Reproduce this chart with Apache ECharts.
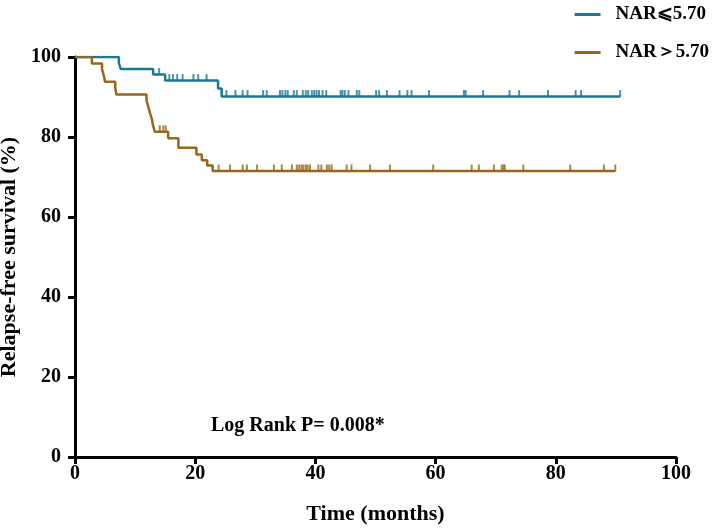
<!DOCTYPE html>
<html>
<head>
<meta charset="utf-8">
<script src="https://cdn.jsdelivr.net/npm/echarts@6/dist/echarts.min.js"></script>
<style>
html, body { margin: 0; padding: 0; background: #fff; }
#chart { width: 714px; height: 528px; }
</style>
</head>
<body>
<div id="chart"></div>
<script>
var lowName = 'NAR⩽5.70';
var highName = 'NAR＞5.70';

// Kaplan-Meier steps: event time (months) and survival (%) right after it
var lowTimes = [7.3, 7.6, 13.0, 15.0, 23.8, 24.4];
var lowSurv = [98.5, 97.0, 95.6, 94.1, 92.1, 90.1];
var lowLast = 90.7;
var lowCensor = [14.0, 15.7, 16.3, 17.0, 17.9, 19.7, 20.5, 21.9, 25.2, 26.7, 27.9, 28.7,
    31.3, 31.9, 34.1, 34.5, 35.0, 35.4, 36.4, 36.9, 37.9, 38.4, 38.8, 39.4, 39.8, 40.2,
    40.6, 41.2, 41.8, 44.2, 44.5, 44.9, 45.5, 46.9, 47.3, 50.1, 50.6, 51.9, 54.0, 55.3,
    56.0, 58.9, 64.7, 65.0, 67.9, 72.3, 73.9, 78.7, 83.3, 84.2, 90.7];

var highTimes = [2.8, 4.5, 4.8, 5.0, 6.7, 6.9, 11.9, 12.2, 12.5, 12.8, 13.0, 13.3,
    15.5, 17.2, 20.2, 21.1, 22.0, 22.9];
var highSurv = [98.4, 96.9, 95.3, 93.8, 92.2, 90.6, 89.1, 87.5, 85.9, 84.4, 82.8, 81.3,
    79.7, 77.3, 75.6, 74.2, 72.9, 71.5];
var highLast = 89.9;
var highCensor = [14.1, 14.7, 15.1, 23.9, 25.8, 27.9, 28.6, 30.3, 33.1, 34.4, 36.1, 36.9,
    37.3, 37.7, 38.0, 38.4, 38.7, 39.1, 40.5, 41.0, 41.9, 42.3, 42.7, 45.2, 46.0, 49.1,
    52.4, 59.6, 66.0, 67.2, 69.7, 71.0, 71.3, 71.5, 74.6, 82.4, 88.0, 89.9];

var blue = '#1a7a96';
var brown = '#97671c';
var serif = 'Liberation Serif';

function stepData(times, surv, last) {
    var pts = [[0, 100]];
    for (var i = 0; i < times.length; i++) pts.push([times[i], surv[i]]);
    pts.push([last, surv[surv.length - 1]]);
    return pts;
}

function survAt(times, surv, t) {
    var s = 100;
    for (var i = 0; i < times.length; i++) {
        if (times[i] <= t) s = surv[i];
    }
    return s;
}

function censorData(times, surv, censor) {
    return censor.map(function (t) { return [t, survAt(times, surv, t)]; });
}

var myChart = echarts.init(document.getElementById('chart'));
var axisLabel = { color: '#000', fontFamily: serif, fontWeight: 'bold', fontSize: 20 };
var nameStyle = { color: '#000', fontFamily: serif, fontWeight: 'bold', fontSize: 22 };
var option = {
    animation: false,
    grid: { left: 75, right: 38, top: 57, bottom: 71, outerBoundsMode: 'none' },
    legend: {
        data: [lowName, highName],
        orient: 'vertical',
        right: 0,
        top: 0,
        itemGap: 19,
        itemWidth: 26,
        itemHeight: 3,
        icon: 'rect',
        textStyle: { color: '#000', fontFamily: serif, fontWeight: 'bold', fontSize: 19, padding: [0, 0, 0, 10] }
    },
    xAxis: {
        type: 'value',
        min: 0,
        max: 100,
        interval: 20,
        name: 'Time (months)',
        nameLocation: 'middle',
        nameGap: 46,
        nameTextStyle: nameStyle,
        axisLine: { onZero: false, lineStyle: { color: '#000', width: 3 } },
        axisTick: { length: 7, lineStyle: { width: 3 } },
        axisLabel: Object.assign({ margin: 7 }, axisLabel),
        splitLine: { show: false }
    },
    yAxis: {
        type: 'value',
        min: 0,
        max: 100,
        interval: 20,
        name: 'Relapse-free survival (%)',
        nameLocation: 'middle',
        nameGap: 51,
        nameTextStyle: nameStyle,
        axisLine: { show: true, lineStyle: { color: '#000', width: 3 } },
        axisTick: { show: true, length: 7, lineStyle: { width: 3 } },
        axisLabel: Object.assign({ margin: 14 }, axisLabel),
        splitLine: { show: false }
    },
    graphic: [{
        type: 'text',
        left: 211,
        top: 416,
        style: { text: 'Log Rank P= 0.008*', fill: '#000', font: 'bold 20px "Liberation Serif"' }
    }],
    series: [{
        name: lowName,
        type: 'line',
        step: 'end',
        showSymbol: false,
        data: stepData(lowTimes, lowSurv, lowLast),
        lineStyle: { color: blue, width: 2.5 },
        itemStyle: { color: blue },
        z: 3
    }, {
        name: highName,
        type: 'line',
        step: 'end',
        showSymbol: false,
        data: stepData(highTimes, highSurv, highLast),
        lineStyle: { color: brown, width: 2.5 },
        itemStyle: { color: brown },
        z: 3
    }, {
        name: lowName,
        type: 'scatter',
        symbol: 'rect',
        symbolSize: [2, 7],
        symbolOffset: [0, -3],
        data: censorData(lowTimes, lowSurv, lowCensor),
        itemStyle: { color: blue },
        z: 3
    }, {
        name: highName,
        type: 'scatter',
        symbol: 'rect',
        symbolSize: [2, 7],
        symbolOffset: [0, -3],
        data: censorData(highTimes, highSurv, highCensor),
        itemStyle: { color: brown },
        z: 3
    }]
};
myChart.setOption(option);
</script>
</body>
</html>
